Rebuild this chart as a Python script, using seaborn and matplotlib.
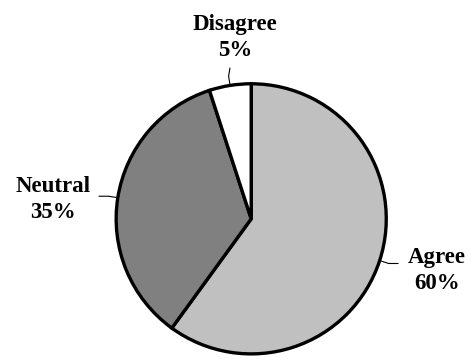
import numpy as np
import matplotlib
matplotlib.use("Agg")
import matplotlib.pyplot as plt
import seaborn as sns

# Survey responses
categories = ["Agree", "Neutral", "Disagree"]
shares = [60, 35, 5]
colors = ["#c0c0c0", "#808080", "#ffffff"]

sns.set_theme(style="white")
plt.rcParams["font.family"] = ["Liberation Serif", "DejaVu Serif"]

fig = plt.figure(figsize=(4.7, 3.6), dpi=100)
ax = fig.add_axes([0, 0, 1, 1])
ax.set_axis_off()

wedges, _ = ax.pie(
    shares,
    colors=colors,
    startangle=90,
    counterclock=False,
    radius=1.0,
    wedgeprops=dict(edgecolor="black", linewidth=2.4),
)

ax.set_aspect("equal")
ax.set_xlim(-1.86, 1.62)
ax.set_ylim(-1.045, 1.62)

# label placement (text centre) for each slice
label_pos = {
    "Agree": (1.375, -0.385),
    "Neutral": (-1.47, 0.145),
    "Disagree": (-0.12, 1.345),
}

for w, name, val in zip(wedges, categories, shares):
    mid = np.deg2rad((w.theta1 + w.theta2) / 2)
    x0, y0 = np.cos(mid), np.sin(mid)
    x1, y1 = 1.07 * x0, 1.07 * y0
    tx, ty = label_pos[name]
    if name == "Disagree":
        x2, y2 = x1 + 0.01, y1 + 0.06
    elif name == "Agree":
        x2, y2 = x1 + 0.07, y1
    else:
        x2, y2 = x1 - 0.07, y1
    ax.plot([x0, x1, x2], [y0, y1, y2], color="black", lw=0.8,
            solid_joinstyle="miter")
    ax.text(tx, ty, f"{name}\n{val}%", ha="center", va="center",
            fontsize=16.5, fontweight="bold", color="black",
            linespacing=1.33)

fig.savefig("out.png", dpi=100)
